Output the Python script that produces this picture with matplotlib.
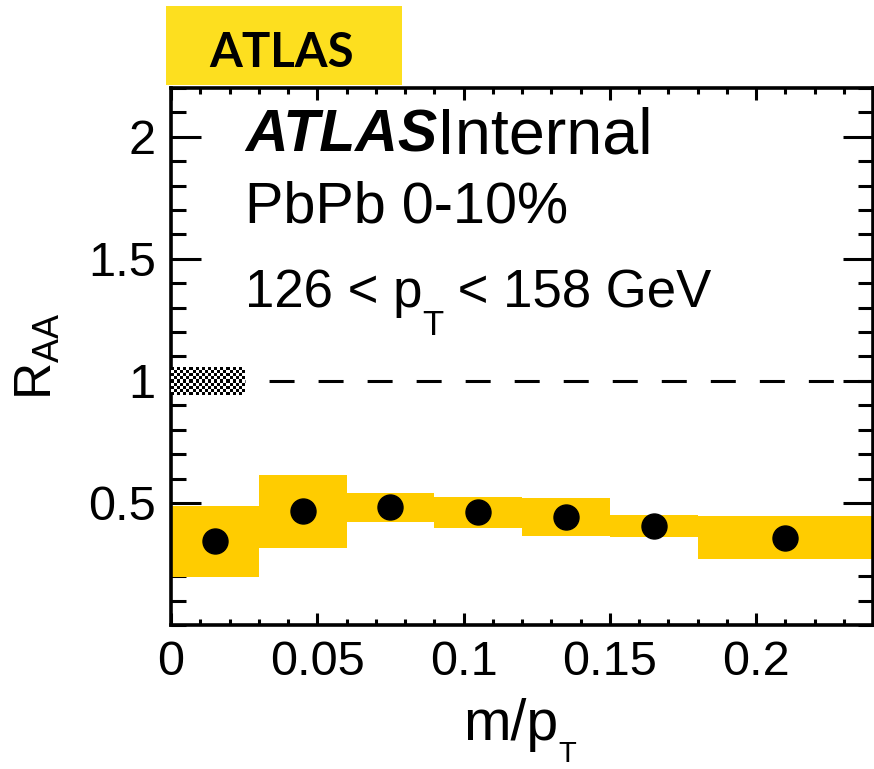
import numpy as np
import matplotlib
matplotlib.use('Agg')
import matplotlib.pyplot as plt
from matplotlib.patches import Rectangle
from matplotlib.ticker import MultipleLocator, FixedLocator, FuncFormatter

plt.rcParams['font.family'] = ['Liberation Sans', 'DejaVu Sans']
plt.rcParams['mathtext.fontset'] = 'custom'
plt.rcParams['mathtext.rm'] = 'Liberation Sans'
plt.rcParams['mathtext.it'] = 'Liberation Sans:italic'

# m/pT bin edges
bin_lo = [0.0, 0.03, 0.06, 0.09, 0.12, 0.15, 0.18]
bin_hi = [0.03, 0.06, 0.09, 0.12, 0.15, 0.18, 0.24]
# R_AA and systematic uncertainty per bin
raa = [0.342, 0.466, 0.482, 0.462, 0.442, 0.405, 0.358]
syst = [0.144, 0.150, 0.060, 0.064, 0.079, 0.045, 0.088]
# normalisation (TAA + lumi) uncertainty drawn at unity
norm_unc = 0.057
norm_width = 0.025

x_ticks = [0, 0.05, 0.1, 0.15, 0.2]
y_ticks = [0.5, 1, 1.5, 2]

bin_lo = np.array(bin_lo)
bin_hi = np.array(bin_hi)
raa = np.array(raa)
syst = np.array(syst)
centers = 0.5 * (bin_lo + bin_hi)

fig = plt.figure(figsize=(8.74, 7.69), dpi=100)
ax = fig.add_axes([0.1957, 0.1873, 0.8032, 0.6983])

gold = '#ffcc00'
ax.bar(bin_lo, 2 * syst, bottom=raa - syst, width=bin_hi - bin_lo,
       align='edge', color=gold, linewidth=0, zorder=2)
ax.plot(centers, raa, 'o', ms=18, color='black', zorder=4)

lw = 2.2
ax.axhline(1, color='black', lw=lw, ls=(0, (18 / lw, 17.3 / lw)), zorder=3)

# checkered box for the normalisation uncertainty
checker = np.indices((9, 24)).sum(axis=0) % 2
ax.imshow(checker, cmap='gray', interpolation='nearest', aspect='auto',
          extent=(0, norm_width, 1 - norm_unc, 1 + norm_unc), zorder=3.5)

ax.set_xlim(0, 0.24)
ax.set_ylim(0, 2.2)

ax.xaxis.set_major_locator(FixedLocator(x_ticks))
ax.xaxis.set_minor_locator(MultipleLocator(0.01))
ax.yaxis.set_major_locator(FixedLocator(y_ticks))
ax.yaxis.set_minor_locator(MultipleLocator(0.1))
fmt = FuncFormatter(lambda v, p: f'{v:g}')
ax.xaxis.set_major_formatter(fmt)
ax.yaxis.set_major_formatter(fmt)

ax.tick_params(which='both', direction='in', top=True, right=True,
               width=2.2, labelsize=35, pad=11)
ax.tick_params(axis='y', which='major', length=21.6)
ax.tick_params(axis='y', which='minor', length=10.8)
ax.tick_params(axis='x', which='major', length=8.5)
ax.tick_params(axis='x', which='minor', length=4)
for s in ax.spines.values():
    s.set_linewidth(2.6)


def chain(prev, s, size, dy=0, **kw):
    # place s right after prev, dy points relative to prev's baseline
    return ax.annotate(s, xy=(1, 0), xycoords=prev, xytext=(0, dy),
                       textcoords='offset points', fontsize=size,
                       va='bottom', annotation_clip=False, **kw)


# y title
ax.set_ylabel(r'$\mathregular{R_{AA}}$', fontsize=37)
ax.yaxis.set_label_coords(-0.155, 0.5)

# x title with a dropped subscript
xt = fig.text(463 / 874, 1 - 740 / 769, 'm/p', fontsize=41, va='baseline')
chain(xt, 'T', 21, dy=-11.5)

# ATLAS Internal label
t1 = ax.text(0.105, 0.881, 'ATLAS', transform=ax.transAxes, fontsize=42.5,
             fontweight='bold', fontstyle='italic', va='baseline')
chain(t1, 'Internal', 46.5, dy=-2)
ax.text(0.105, 0.749, 'PbPb 0-10%', transform=ax.transAxes, fontsize=41.5,
        va='baseline')
t3 = ax.text(0.105, 0.592, '126 < p', transform=ax.transAxes, fontsize=38,
             va='baseline')
t4 = chain(t3, 'T', 25, dy=-17)
chain(t4, ' < 158 GeV', 38, dy=17)

# yellow banner above the frame
fig.patches.append(Rectangle((0.190, 0.889), 0.270, 0.103,
                             transform=fig.transFigure, facecolor='#fddf1f',
                             edgecolor='none'))
fig.text(0.3225, 0.931, 'ATLAS', family=['Lato', 'DejaVu Sans'],
         fontweight='bold', fontsize=34, ha='center', va='center')

fig.savefig('out.png', dpi=100)
